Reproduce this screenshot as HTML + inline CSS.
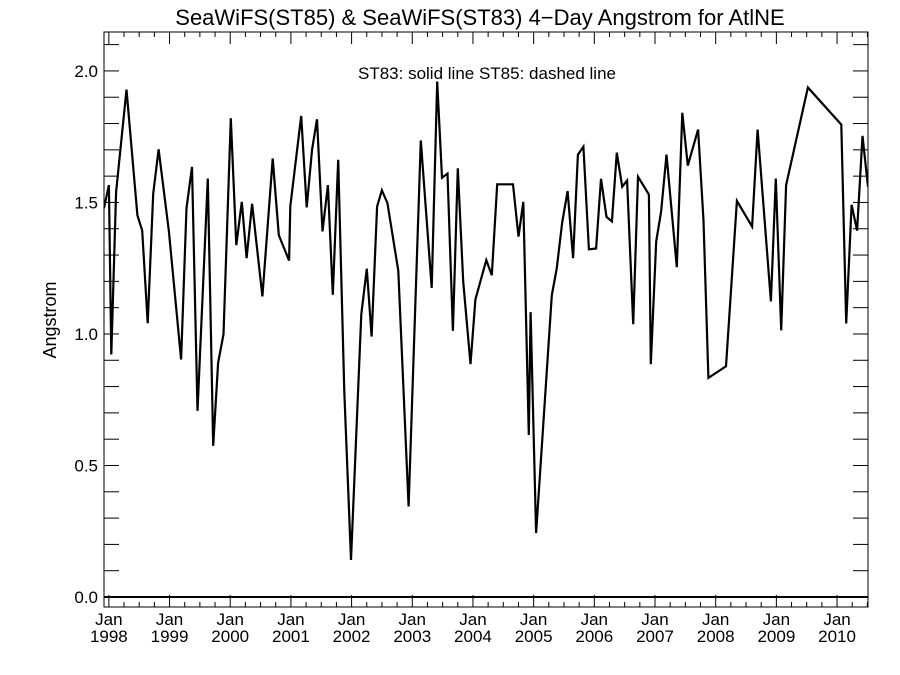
<!DOCTYPE html>
<html><head><meta charset="utf-8"><style>
html,body{margin:0;padding:0;background:#fff;}
svg{display:block;font-family:"Liberation Sans",Arial,sans-serif;}
</style></head><body>
<svg id="chart" width="900" height="675" viewBox="0 0 900 675" xmlns="http://www.w3.org/2000/svg">
<rect width="900" height="675" fill="#fff"/>
<text x="480" y="25" text-anchor="middle" font-size="22">SeaWiFS(ST85) &amp; SeaWiFS(ST83) 4−Day Angstrom for AtlNE</text>
<text x="487" y="79" text-anchor="middle" font-size="17">ST83: solid line   ST85: dashed line</text>
<text transform="translate(56,320) rotate(-90)" text-anchor="middle" font-size="18">Angstrom</text>
<g id="axes"></g>
<g id="series"></g>
</svg>
<script>
const yearsT = [1997.92,1998.0,1998.04,1998.12,1998.29,1998.47,1998.55,1998.64,1998.73,1998.82,1998.99,1999.19,1999.28,1999.37,1999.46,1999.63,1999.72,1999.80,1999.89,2000.01,2000.10,2000.19,2000.27,2000.36,2000.53,2000.70,2000.80,2000.97,2000.99,2001.17,2001.26,2001.35,2001.43,2001.52,2001.61,2001.69,2001.78,2001.88,2001.99,2002.16,2002.25,2002.33,2002.42,2002.50,2002.59,2002.77,2002.94,2003.14,2003.32,2003.41,2003.49,2003.58,2003.67,2003.75,2003.84,2003.96,2004.04,2004.22,2004.31,2004.40,2004.66,2004.75,2004.83,2004.92,2004.95,2005.04,2005.30,2005.38,2005.47,2005.56,2005.65,2005.73,2005.82,2005.91,2006.03,2006.11,2006.20,2006.29,2006.37,2006.46,2006.54,2006.64,2006.72,2006.90,2006.93,2007.02,2007.10,2007.19,2007.36,2007.45,2007.54,2007.71,2007.80,2007.88,2008.17,2008.35,2008.60,2008.69,2008.91,2008.99,2009.08,2009.16,2009.52,2010.07,2010.15,2010.24,2010.33,2010.42,2010.51];
const st83Values = [1.478,1.566,0.922,1.54,1.929,1.451,1.393,1.041,1.533,1.702,1.39,0.903,1.478,1.635,0.708,1.591,0.575,0.89,0.999,1.82,1.338,1.502,1.288,1.495,1.143,1.667,1.376,1.279,1.485,1.829,1.481,1.702,1.816,1.39,1.566,1.149,1.662,0.78,0.141,1.075,1.248,0.99,1.485,1.546,1.498,1.24,0.344,1.736,1.175,1.96,1.594,1.61,1.012,1.63,1.2,0.885,1.131,1.281,1.223,1.569,1.569,1.37,1.502,0.616,1.083,0.243,1.147,1.248,1.424,1.543,1.288,1.682,1.712,1.322,1.325,1.59,1.445,1.428,1.689,1.56,1.583,1.037,1.598,1.53,0.885,1.352,1.465,1.682,1.254,1.841,1.64,1.777,1.431,0.833,0.877,1.506,1.408,1.777,1.124,1.591,1.014,1.566,1.937,1.796,1.04,1.491,1.393,1.753,1.56];
const yTickLabels = ["0.0","0.5","1.0","1.5","2.0"];
const xTickYears = [1998,1999,2000,2001,2002,2003,2004,2005,2006,2007,2008,2009,2010];

const L=104,R=868,T=32,B=607;
const X0=1997.92,X1=2010.51,Y0=-0.038,Y1=2.148;
const xs=t=>L+(t-X0)/(X1-X0)*(R-L);
const ys=v=>B-(v-Y0)/(Y1-Y0)*(B-T);
const NS="http://www.w3.org/2000/svg";
const axes=document.getElementById('axes'), series=document.getElementById('series');
function mk(tag,attrs,parent){const e=document.createElementNS(NS,tag);for(const k in attrs)e.setAttribute(k,attrs[k]);parent.appendChild(e);return e;}

const frame=mk('rect',{x:L,y:T,width:R-L,height:B-T,fill:'none',stroke:'#000','stroke-width':1},axes);



for(let i=0;i<=21;i++){const v=i/10;const y=ys(v);
 mk('line',{x1:L,x2:L+15,y1:y,y2:y,stroke:'#000','stroke-width':1},axes);
 mk('line',{x1:R,x2:R-15,y1:y,y2:y,stroke:'#000','stroke-width':1},axes);}
yTickLabels.forEach(s=>{const t=mk('text',{x:L-6,y:ys(parseFloat(s))+6,'text-anchor':'end','font-size':17},axes);t.textContent=s;
 
 });

for(let q=Math.ceil(X0*4);q<=X1*4;q++){const t=q/4;const x=xs(t);const major=q%4===0;const len=major?12:5;
 mk('line',{x1:x,x2:x,y1:B,y2:B-len,stroke:'#000','stroke-width':1},axes);
 mk('line',{x1:x,x2:x,y1:T,y2:T+len,stroke:'#000','stroke-width':1},axes);}
xTickYears.forEach(yr=>{const x=xs(yr);
 const a=mk('text',{x:x,y:625,'text-anchor':'middle','font-size':17},axes);a.textContent='Jan';
 
 
 const b=mk('text',{x:x,y:642,'text-anchor':'middle','font-size':17},axes);b.textContent=String(yr);
 
 });

const zero=mk('line',{x1:L,x2:R,y1:ys(0),y2:ys(0),stroke:'#000','stroke-width':2},axes);



mk('clipPath',{id:'clip'},series).appendChild(Object.assign(document.createElementNS(NS,'rect'),{}));
const cr=series.querySelector('clipPath rect');cr.setAttribute('x',L);cr.setAttribute('y',T);cr.setAttribute('width',R-L);cr.setAttribute('height',B-T);
const pts=yearsT.map((t,i)=>xs(t).toFixed(1)+','+ys(st83Values[i]).toFixed(1)).join(' ');
const line=mk('polyline',{points:pts,fill:'none',stroke:'#000','stroke-width':2.2,'stroke-linejoin':'miter','clip-path':'url(#clip)'},series);


</script>
</body></html>
